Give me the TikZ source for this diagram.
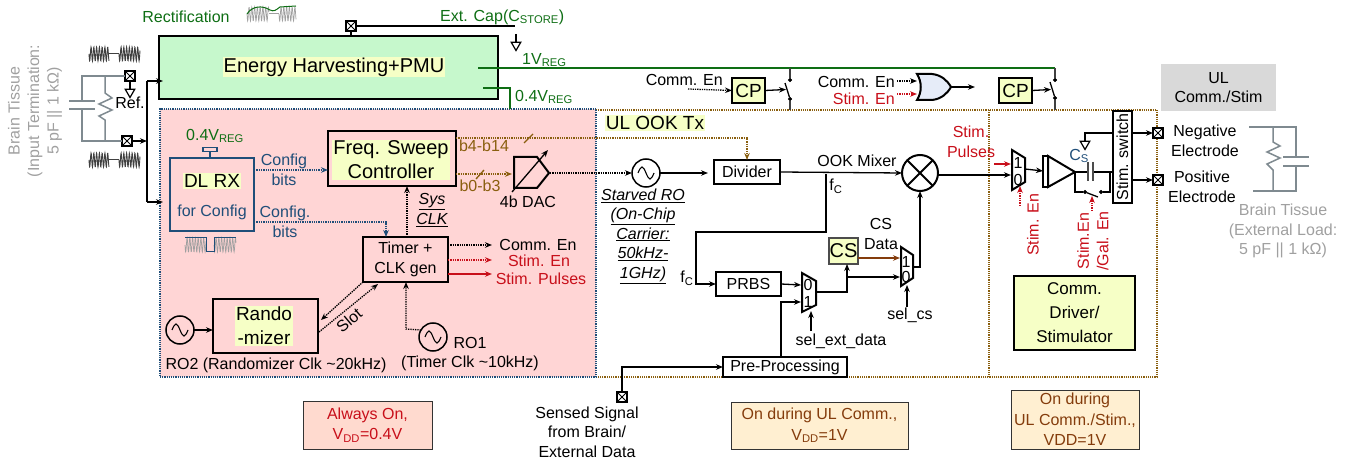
\documentclass[tikz,border=0pt]{standalone}
\usepackage{fontspec}
\setmainfont{Liberation Sans}
\usetikzlibrary{arrows.meta,shapes.geometric}

\definecolor{pinkbg}{HTML}{FFD5D5}
\definecolor{greenbg}{HTML}{C6F8CC}
\definecolor{hlyellow}{HTML}{F6FFC6}
\definecolor{navyln}{HTML}{1F4E79}
\definecolor{brownln}{HTML}{8A5F0F}
\definecolor{rustln}{HTML}{843C0C}
\definecolor{greenln}{HTML}{0E6E14}
\definecolor{redln}{HTML}{C80F1A}
\definecolor{tissue}{HTML}{A0A0A0}
\definecolor{rcgray}{HTML}{7F8A90}
\definecolor{orblue}{HTML}{E6ECF8}
\definecolor{stateon}{HTML}{FFDACF}
\definecolor{stateul}{HTML}{FFEFD1}

\newcommand{\waveburst}[5]{\draw [#5, shift={(#1,#3)}] plot [domain=0:#2,samples=70] (\x,{#4*sin(\x*130)});}

\begin{document}
\begin{tikzpicture}[
  x=1pt, y=-1pt,
  >={Stealth[length=7pt,width=5.5pt]},
  txt/.style={font=\fontsize{16}{19.5}\selectfont, align=center, inner sep=0pt},
  bigtxt/.style={font=\fontsize{20}{24}\selectfont, align=center, inner sep=1pt, fill=hlyellow},
  block/.style={draw, line width=2pt, outer sep=0pt, inner sep=0pt, align=center, font=\fontsize{16}{20}\selectfont},
  hlblock/.style={block, fill=hlyellow},
  state/.style={draw=black!80, line width=1pt, inner sep=0pt, align=center, font=\fontsize{16}{20.5}\selectfont},
  wire/.style={line width=1.3pt},
  rail/.style={line width=1.5pt, greenln},
  pad/.style={draw, line width=1.3pt, fill=white, minimum size=10pt, inner sep=0pt, outer sep=0pt,
    path picture={\draw [line width=1pt] (path picture bounding box.south west) -- (path picture bounding box.north east)
      (path picture bounding box.north west) -- (path picture bounding box.south east);}},
  gnd/.style={draw, line width=1.2pt, regular polygon, regular polygon sides=3, shape border rotate=180, minimum size=11pt, inner sep=0pt, outer sep=0pt},
  osc/.style={draw, circle, line width=1.5pt, minimum size=28pt, inner sep=0pt, outer sep=0pt,
    path picture={\draw [line width=1.1pt] ([xshift=-8pt]path picture bounding box.center) sin ++(4pt,6pt) cos ++(4pt,-6pt) sin ++(4pt,-6pt) cos ++(4pt,6pt);}},
  mixer/.style={draw, circle, line width=2pt, minimum size=36pt, inner sep=0pt, outer sep=0pt,
    path picture={\draw [line width=2pt] (path picture bounding box.south west) -- (path picture bounding box.north east)
      (path picture bounding box.north west) -- (path picture bounding box.south east);}},
  swdot/.style={draw, fill, circle, minimum size=3.5pt, inner sep=0pt, outer sep=0pt},
  muxbody/.style={draw, line width=2pt, fill=white},
]
\useasboundingbox (0,0) rectangle (1351,462);

% regions
\fill [pinkbg] (160,109) rectangle (596,377);
\draw [brownln, densely dotted, line width=1.2pt] (596,110) -- (1157,110) -- (1157,377) -- (596,377);
\draw [brownln, densely dotted, line width=1.2pt] (989,110) -- (989,377);
\draw [navyln, densely dotted, line width=1.2pt] (596,109) -- (160,109) -- (160,377) -- (596,377) -- cycle;

% harvester
\node [block, fill=greenbg, minimum width=339pt, minimum height=63pt] (pmu) at (328.5,67.5) {};
\node [bigtxt] (pmutxt) at (334,67) {Energy Harvesting+PMU};
\node [txt, text=greenln] (recttxt) at (186,17) {Rectification};
\waveburst{247}{22}{14}{7}{tissue, line width=0.7pt}
\waveburst{279}{17}{14}{7}{tissue, line width=0.7pt}
\draw [tissue, line width=1pt] (269,14) -- (279,14);
\draw [greenln, line width=1pt] (247,14) .. controls (252,6) and (262,5) .. (270,10) .. controls (274,12) and (276,10) .. (280,7) -- (296,6);
\node [pad] (padcap) at (351,26) {};
\coordinate (capend) at (515,26);
\draw [wire] (padcap) -- (capend);
\draw [wire] (padcap) -- (351,36);
\node [gnd] (capgnd) at (516,45) {};
\coordinate (captop) at (516,34);
\draw [wire] (captop) -- (capgnd.north);
\node [txt, text=greenln, anchor=west] (captxt) at (440,17) {Ext. Cap(C\textsubscript{STORE})};

% supply rails
\coordinate (vonestart) at (478,68);
\coordinate (voneend) at (1055,68);
\draw [rail] (vonestart) -- (voneend);
\node [txt, text=greenln, anchor=west] (vonetxt) at (522,60) {1V\textsubscript{REG}};
\coordinate (vlowstart) at (483,88);
\coordinate (vlowend) at (510,109);
\draw [rail] (vlowstart) -| (vlowend);
\node [txt, text=greenln, anchor=west] (vlowtxt) at (515,97) {0.4V\textsubscript{REG}};

% charge pumps
\node [hlblock, font=\fontsize{19}{19}\selectfont, minimum width=33pt, minimum height=25pt] (cpa) at (748.5,90.5) {CP};
\node [txt, anchor=east] (commena) at (723,80) {Comm. En};
\coordinate (cpain) at (688,89);
\draw [wire, densely dotted, ->] (cpain) -- (cpa.west);
\node [swdot] (swatop) at (790,80) {};
\node [swdot] (swabot) at (790,99) {};
\coordinate (swatap) at (790,68);
\coordinate (swaoff) at (790,110);
\coordinate (swahinge) at (785,83);
\coordinate (swain) at (786,89.5);
\draw [wire, black!75] (swatap) -- (swatop);
\draw [wire, black!75] (swabot) -- (swaoff);
\draw [wire] (swahinge) -- (swabot);
\draw [wire, ->] (cpa.east) -- (swain);

\node [txt, anchor=east] (commenb) at (895,82) {Comm. En};
\node [txt, anchor=east, text=redln] (stimenb) at (895,99) {Stim. En};
\draw [line width=2pt, fill=orblue] (917,74) -- (932,74) .. controls (941,75) and (947,80) .. (951,87) .. controls (947,94) and (941,99) .. (932,100) -- (917,100) .. controls (922,92) and (922,82) .. (917,74) -- cycle;
\coordinate (orina) at (917,81);
\coordinate (orinb) at (917,94);
\coordinate (orout) at (951,87);
\coordinate (orend) at (975,87);
\draw [wire, densely dotted, ->] (897,81) -- (orina);
\draw [wire, densely dotted, redln, ->] (897,94) -- (orinb);
\draw [wire, ->] (orout) -- (orend);
\node [hlblock, font=\fontsize{19}{19}\selectfont, minimum width=33pt, minimum height=25pt] (cpb) at (1015.5,90.5) {CP};
\node [swdot] (swbtop) at (1055,80) {};
\node [swdot] (swbbot) at (1055,98) {};
\coordinate (swbtap) at (1055,68);
\coordinate (swboff) at (1055,110);
\coordinate (swbhinge) at (1050,82);
\coordinate (swbin) at (1051,89.5);
\draw [wire, black!75] (swbtap) -- (swbtop);
\draw [wire, black!75] (swbbot) -- (swboff);
\draw [wire] (swbhinge) -- (swbbot);
\draw [wire, ->] (cpb.east) -- (swbin);

% input termination
\node [txt, text=tissue, rotate=90] (tissuea) at (35,111) {Brain Tissue\\(Input Termination:\\5 pF || 1 kΩ)};
\waveburst{89}{20}{54}{7}{black!75, line width=0.9pt}
\waveburst{119}{21}{54}{7}{black!75, line width=0.9pt}
\draw [black!75, line width=1pt] (109,54) -- (119,54);
\waveburst{89}{20}{160}{7}{black!75, line width=0.9pt}
\waveburst{119}{21}{160}{7}{black!75, line width=0.9pt}
\draw [black!75, line width=1pt] (109,160) -- (119,160);
\node [pad] (pada) at (130,76) {};
\node [pad] (padb) at (127,141) {};
\draw [rcgray, line width=1.5pt] (pada) -- (82,76) -- (82,101) (82,109) -- (82,141) -- (padb);
\draw [rcgray, line width=2.2pt] (69,101) -- (95,101) (69,109) -- (95,109);
\draw [rcgray, line width=1.5pt] (105,76) -- (105,93) -- (112,98) -- (99,104) -- (112,110) -- (99,116) -- (105,120) -- (105,141);
\node [gnd] (refgnd) at (130,92) {};
\draw [wire] (pada) -- (refgnd.north);
\node [txt, anchor=center] (reftxt) at (130,103) {Ref.};
\coordinate (bust) at (147,81);
\coordinate (busm) at (147,141);
\coordinate (busb) at (147,202);
\coordinate (pmuin) at (163,81);
\coordinate (dlin) at (163,202);
\draw [wire] (bust) -- (busb);
\draw [wire, ->] (padb) -- (busm);
\draw [wire, ->] (bust) -- (pmuin);
\draw [wire, ->] (busb) -- (dlin);

% DL receiver
\node [block, draw=navyln, minimum width=84pt, minimum height=73pt] (dlrx) at (212,194.5) {};
\node [bigtxt, font=\fontsize{19}{19}\selectfont] (dlrxtxt) at (212,181) {DL RX};
\node [txt, text=navyln] (dlcfgtxt) at (212,212) {for Config};
\node [draw=navyln, line width=1.5pt, minimum width=14pt, minimum height=4pt, inner sep=0pt, outer sep=0pt] (vregsym) at (210,149.5) {};
\draw [navyln, line width=1.5pt] (vregsym) -- (dlrx.north -| vregsym);
\node [txt, text=greenln] (vregtxt) at (215,136) {0.4V\textsubscript{REG}};
\waveburst{185}{21}{245}{7}{tissue, line width=0.7pt}
\waveburst{214}{22}{245}{7}{tissue, line width=0.7pt}
\draw [navyln, line width=1pt] (185,238) -- (206,238) -- (206,251.5) -- (214,251.5) -- (214,238) -- (236,238);
\node [txt, text=navyln] (cfgone) at (284,170) {Config\\bits};
\node [txt, text=navyln] (cfgtwo) at (285,222) {Config.\\bits};

% frequency sweep
\node [block, minimum width=128pt, minimum height=55pt] (sweep) at (392,158.5) {};
\node [bigtxt] (sweeptxt) at (391,160) {Freq. Sweep\\Controller};
\draw [wire, densely dotted, navyln, ->] (dlrx.east |- 0,170) -- (sweep.west |- 0,170);

% timer
\node [block, minimum width=85pt, minimum height=45pt] (timer) at (405.5,259.5) {Timer +\\CLK gen};
\coordinate (cfgturn) at (386,222);
\draw [wire, densely dotted, navyln, ->] (dlrx.east |- cfgturn) -- (cfgturn) -- (cfgturn |- timer.north);
\draw [wire, densely dotted, ->] (timer.north -| 407,0) -- (sweep.south -| 407,0);
\node [txt, font=\fontsize{16}{20}\selectfont\itshape] (sysclk) at (432,210) {\underline{Sys}\\\underline{CLK}};
\node [txt] (commenc) at (538,245) {Comm. En};
\node [txt, text=redln] (stimenc) at (539,261) {Stim. En};
\node [txt, text=redln] (stimpulc) at (541,279) {Stim. Pulses};
\draw [wire, densely dotted, ->] (timer.east |- 0,245) -- (492,245);
\draw [wire, densely dotted, redln, ->] (timer.east |- 0,260) -- (492,260);
\draw [wire, redln, ->] (timer.east |- 0,274) -- (492,274);

% randomizer and oscillators
\node [block, minimum width=105pt, minimum height=54pt] (rando) at (265.5,326) {};
\node [bigtxt, font=\fontsize{19}{24}\selectfont] (randotxt) at (264,326) {Rando\\-mizer};
\node [osc] (rotwo) at (180,330) {};
\draw [wire, ->] (rotwo) -- (rando.west |- rotwo);
\node [txt] (rotwotxt) at (276,365) {RO2 (Randomizer Clk \textasciitilde20kHz)};
\node [osc] (roone) at (433,337) {};
\node [txt] (roonetxt) at (470,354) {RO1\\(Timer Clk \textasciitilde10kHz)};
\coordinate (roturn) at (406,329);
\draw [wire, densely dotted, ->] (roone.150) -- (roturn) -- (timer.south -| roturn);
\draw [wire, densely dotted, ->] (363,282) -- (321,320);
\draw [wire, densely dotted, ->] (319,332) -- (378,284);
\node [txt, rotate=40] (slottxt) at (349,320) {Slot};

% DAC
\node [txt, text=brownln] (bhightxt) at (484,146) {b4-b14};
\node [txt, text=brownln] (blowtxt) at (480,186) {b0-b3};
\coordinate (divturn) at (747,138);
\node [block, minimum width=66pt, minimum height=24pt] (divider) at (747,172) {Divider};
\draw [wire, densely dotted, brownln, ->] (sweep.east |- divturn) -- (divturn) -- (divider.north);
\draw [wire, brownln] (524,143) -- (533,134);
\coordinate (dacin) at (512,174);
\draw [wire, densely dotted, brownln, ->] (sweep.east |- dacin) -- (dacin);
\draw [wire, brownln] (476,179) -- (484,170);
\draw [line width=2pt, fill=pinkbg] (514,157) -- (537,157) -- (549,173) -- (537,188) -- (514,188) -- cycle;
\draw [wire, ->] (512,192) -- (548,150);
\node [txt] (dactxt) at (528,202) {4b DAC};

% UL transmitter
\node [bigtxt, font=\fontsize{19}{19}\selectfont] (ultxt) at (655,123) {UL OOK Tx};
\node [osc] (starved) at (646,173) {};
\coordinate (dacout) at (550,173);
\draw [wire, densely dotted, ->] (dacout) -- (starved.west);
\draw [wire, ->] (starved.east) -- (708,173);
\node [txt, font=\fontsize{16}{19.5}\selectfont\itshape] (starvedtxt) at (643,236) {\underline{Starved RO}\\\underline{(On-Chip}\\\underline{Carrier:}\\\underline{50kHz-}\\\underline{1GHz)}};
\node [mixer] (mix) at (920,173) {};
\draw [wire, ->] (divider.east) -- (mix.west);
\node [txt] (mixtxt) at (857,161) {OOK Mixer};
\node [txt] (fctxt) at (836,186) {f\textsubscript{C}};
\node [txt] (fcintxt) at (687,278) {f\textsubscript{C}};
\node [block, minimum width=65pt, minimum height=24pt] (prbs) at (748.5,284) {PRBS};
\coordinate (fctap) at (826,174);
\coordinate (fcturn) at (696,232);
\draw [wire, ->] (fctap) |- (fcturn) |- (prbs.west);

% data muxes
\draw [muxbody] (802,273) -- (816,281) -- (816,305) -- (802,312) -- cycle;
\draw [muxbody] (901,247) -- (913,255) -- (913,278) -- (901,286) -- cycle;
\node [txt] (muxazero) at (808,285) {0};
\node [txt] (muxaone) at (808,302) {1};
\node [txt] (muxbone) at (906,262) {1};
\node [txt] (muxbzero) at (906,277) {0};
\coordinate (muxain) at (801,285);
\coordinate (muxadata) at (801,302);
\coordinate (muxaout) at (816,292);
\coordinate (muxasel) at (811,311);
\coordinate (muxbsel) at (907,285);
\coordinate (muxbcs) at (900,258);
\coordinate (muxbraw) at (900,277);
\coordinate (muxbout) at (913,267);
\node [hlblock, draw=black!70, font=\fontsize{20}{20}\selectfont, minimum width=29pt, minimum height=26pt] (csblk) at (843.5,251) {CS};
\node [txt, font=\fontsize{16}{20}\selectfont] (cstxt) at (881,234) {CS\\Data};
\draw [wire, ->] (prbs.east) -- (muxain);
\draw [wire, ->] (muxaout) -| (csblk.south -| 847,0);
\draw [wire, ->] (847,277) -- (muxbraw);
\draw [line width=1.5pt, rustln, ->] (csblk.east |- muxbcs) -- (muxbcs);
\draw [wire, ->] (muxbout) -| (mix.south);
\node [txt] (selcs) at (910,315) {sel\_cs};
\draw [wire, ->] (907,307) -- (muxbsel);
\node [txt] (selext) at (841,341) {sel\_ext\_data};
\draw [wire, ->] (811,331) -- (muxasel);

% pre-processing
\node [block, minimum width=124pt, minimum height=20pt] (prep) at (785,367) {Pre-Processing};
\node [pad] (padsense) at (622,397) {};
\draw [wire, ->] (padsense) |- (prep.west);
\draw [wire, ->] (prep.north -| 781,0) |- (muxadata);
\node [txt] (sensetxt) at (587,432) {Sensed Signal\\from Brain/\\External Data};

% driver
\node [txt, text=redln] (stimptxt) at (971,142) {Stim.\\Pulses};
\draw [muxbody] (1012,150) -- (1025,158) -- (1025,182) -- (1012,190) -- cycle;
\node [txt] (muxcone) at (1018,163) {1};
\node [txt] (muxczero) at (1018,180) {0};
\coordinate (muxcin) at (1011,175);
\coordinate (muxcred) at (1011,164);
\coordinate (muxcsel) at (1020,186);
\draw [wire, ->] (mix.east) -- (mix.east |- muxcin) -- (muxcin);
\draw [line width=1.5pt, redln, ->] (994,164) -- (muxcred);
\draw [wire, densely dotted, redln, ->] (1020,206) -- (muxcsel);
\node [txt, text=redln, rotate=90] (stimend) at (1033,225) {Stim. En};
\coordinate (bufin) at (1043,171);
\draw [wire, ->] (1025,169) -- (bufin);
\draw [line width=2pt] (1043,156) rectangle (1048,187);
\draw [line width=2pt] (1048,156) -- (1075,172) -- (1048,187) -- cycle;
\node [txt, text=navyln] (cstext) at (1079,156) {C\textsubscript{S}};
\draw [wire] (1075,172) -- (1088,172);
\draw [wire] (1093,172) -- (1113,172);
\draw [line width=1.5pt, black!70] (1088,162) -- (1088,181) (1093,162) -- (1093,181);
\node [swdot] (swcl) at (1085,192) {};
\node [swdot] (swcr) at (1101,192) {};
\draw [wire] (1075,172) -- (1075,192) -- (swcl);
\draw [wire] (swcl) -- (1098,197);
\draw [wire] (swcr) -- (1110,192) -- (1110,172);
\node [block, minimum width=19pt, minimum height=92pt] (stimsw) at (1122.5,157) {};
\node [txt, rotate=90] (stimswtxt) at (1122.5,157) {Stim. switch};
\draw [wire, densely dotted, redln, ->] (1092,211) -- (1092,196);
\node [txt, text=redln, rotate=90] (gallabel) at (1093,241) {Stim.En\\/Gal. En};
\node [gnd] (swgnd) at (1085,144) {};
\draw [wire] (stimsw.west |- 0,133) -| (swgnd.north);
\node [pad] (padneg) at (1158,133) {};
\node [pad] (padpos) at (1158,180) {};
\draw [wire, ->] (stimsw.east |- padneg) -- (padneg);
\draw [wire, ->] (stimsw.east |- padpos) -- (padpos);
\node [hlblock, font=\fontsize{17}{24}\selectfont, minimum width=121pt, minimum height=74pt] (driver) at (1074.5,313) {Comm.\\Driver/\\Stimulator};
\node [txt] (negtxt) at (1205,141) {Negative\\Electrode};
\node [txt] (postxt) at (1202,187) {Positive\\Electrode};
\node [fill=black!15, minimum width=115pt, minimum height=47pt, inner sep=0pt, align=center, font=\fontsize{16}{19}\selectfont] (ulbox) at (1218.5,87.5) {UL\\Comm./Stim};

% external load
\draw [rcgray, line width=1.5pt] (1249,127) -- (1296,127) -- (1296,157) (1296,166) -- (1296,191) -- (1253,191);
\draw [rcgray, line width=2.2pt] (1283,157) -- (1309,157) (1283,166) -- (1309,166);
\draw [rcgray, line width=1.5pt] (1273,127) -- (1273,142) -- (1280,146) -- (1267,152) -- (1280,158) -- (1267,164) -- (1273,170) -- (1273,191);
\node [txt, text=tissue] (tissueb) at (1283,231) {Brain Tissue\\(External Load:\\5 pF || 1 kΩ)};

% power states
\node [state, fill=stateon, text=redln, minimum width=129pt, minimum height=48pt] (alwayson) at (367.5,425) {Always On,\\V\textsubscript{DD}=0.4V};
\node [state, fill=stateul, text=rustln, minimum width=177pt, minimum height=47pt] (ulon) at (819.5,425.5) {On during UL Comm.,\\V\textsubscript{DD}=1V};
\node [state, fill=stateul, text=rustln, minimum width=128pt, minimum height=59pt] (stimon) at (1075,419.5) {On during\\UL Comm./Stim.,\\VDD=1V};

\end{tikzpicture}
\end{document}
